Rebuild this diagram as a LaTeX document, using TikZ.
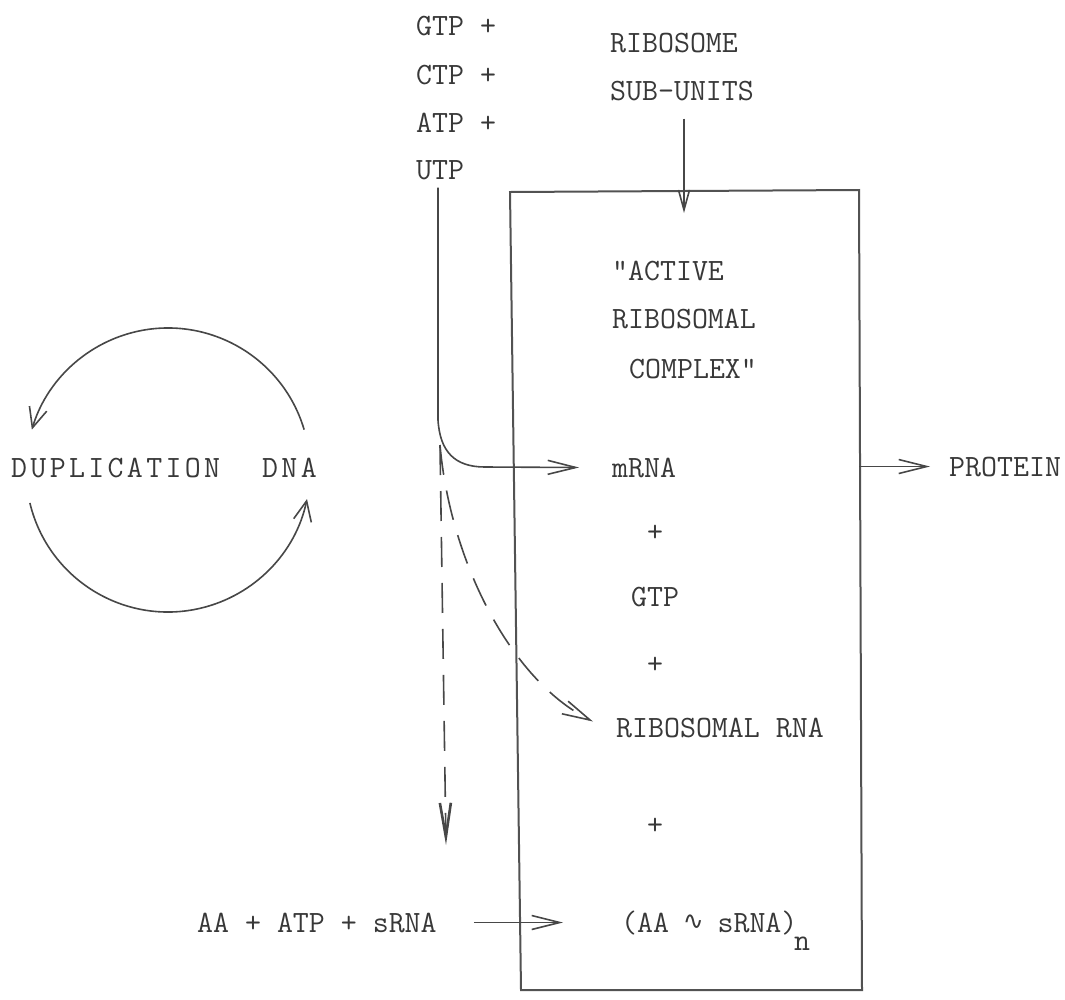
\documentclass[tikz,border=0pt]{standalone}
\usepackage{fontspec}
\newfontfamily\djv{DejaVu Sans}
\usetikzlibrary{arrows.meta,calc}
\def\lsp#1{\ifx\relax#1\else\makebox[19.3pt][l]{#1}\expandafter\lsp\fi}
\tikzset{
  lbl/.style={inner sep=0pt, anchor=base west, text=black!78, font=\fontsize{31}{37}\selectfont\ttfamily},
  plus/.style={inner sep=0pt, anchor=center, text=black!78, font=\fontsize{31}{37}\selectfont\ttfamily},
  ln/.style={draw=black!72, line width=1.6pt},
  boxln/.style={draw=black!68, line width=2pt},
  dsh/.style={dash pattern=on 30pt off 16pt},
  bar/.style={-{Straight Barb[length=28pt,width=14pt]}},
  vbar/.style={-{Straight Barb[length=20pt,width=18pt]}},
  sbar/.style={-{Straight Barb[length=20pt,width=11pt]}},
  dbar/.style={-{Straight Barb[length=34pt,width=11pt,line width=2.6pt]}},
}
\begin{document}
\begin{tikzpicture}[x=1pt,y=-1pt]
\useasboundingbox (0,0) rectangle (1065,999);
% top labels
\node[lbl] (gtp) at (416,35) {GTP +};
\node[lbl] (ctp) at (416,84) {CTP +};
\node[lbl] (atp) at (416,132) {ATP +};
\node[lbl] (utp) at (416,179) {UTP};
\node[lbl] (rib) at (610,52) {RIBOSOME};
\node[lbl] (sub) at (610,100) {SUB-UNITS};
% box
\coordinate (b1) at (510,192);
\coordinate (b2) at (859,190);
\coordinate (b3) at (862,990);
\coordinate (b4) at (521,990);
\draw[boxln] (b1) -- (b2) -- (b3) -- (b4) -- cycle;
% box contents
\node[lbl] (act) at (612,280) {"ACTIVE};
\node[lbl] (rsm) at (612,328) {RIBOSOMAL};
\node[lbl] (cpx) at (629,378) {COMPLEX"};
\node[lbl] (mrna) at (612,477) {mRNA};
\node[plus] (p1) at (655,533) {+};
\node[lbl] (gtp2) at (631,606) {GTP};
\node[plus] (p2) at (655,665) {+};
\node[lbl] (rrna) at (616,737) {RIBOSOMAL RNA};
\node[plus] (p3) at (655,826) {+};
\node[lbl] (aas) at (621,932) {(AA\makebox[48.5pt]{\raisebox{3pt}{\djv\fontsize{25}{25}\selectfont ∿}}sRNA)};
\node[lbl] (nn) at (794,950) {n};
% outside
\node[lbl] (aa) at (197,932) {AA + ATP + sRNA};
\node[lbl] (prot) at (949,476) {PROTEIN};
\node[lbl] (dup) at (11,477) {\lsp DUPLICATION\relax};
\node[lbl] (dna) at (262,477) {\lsp DNA\relax};
% cycle
\coordinate (cc) at (168,470);
\draw[ln, vbar] ($(cc)+(-16.5:142)$) arc[start angle=-16.5, end angle=-163.5, radius=142];
\draw[ln, vbar] ($(cc)+(166.6:142)$) arc[start angle=166.6, end angle=11.8, radius=142];
% sub-units arrow
\coordinate (subtip) at (684,213);
\draw[ln, sbar] ([yshift=-18pt]sub.south -| subtip) -- (subtip);
% UTP line to mRNA
\coordinate (j1) at (438,420);
\coordinate (j2) at (440,445);
\draw[ln, bar] ([yshift=-8pt]utp.south -| j1) -- (j1)
  .. controls (440,452) and (455,467) .. (485,467) -- ([xshift=-33pt]mrna.west);
% dashed branches
\coordinate (dend) at (446,845);
\draw[ln, dsh, dbar] (j2) -- (dend);
\draw[ln, dsh, bar] (j2) .. controls (450,560) and (510,680) .. ([shift={(-23pt,6pt)}]rrna.west);
% protein arrow
\draw[ln, bar] (prot.west -| b2) -- ([xshift=-19pt]prot.west);
% AA arrow
\draw[ln, bar] ([xshift=37pt]aa.east) -- ([xshift=-58pt]aa.east -| aas.west);
\end{tikzpicture}
\end{document}
